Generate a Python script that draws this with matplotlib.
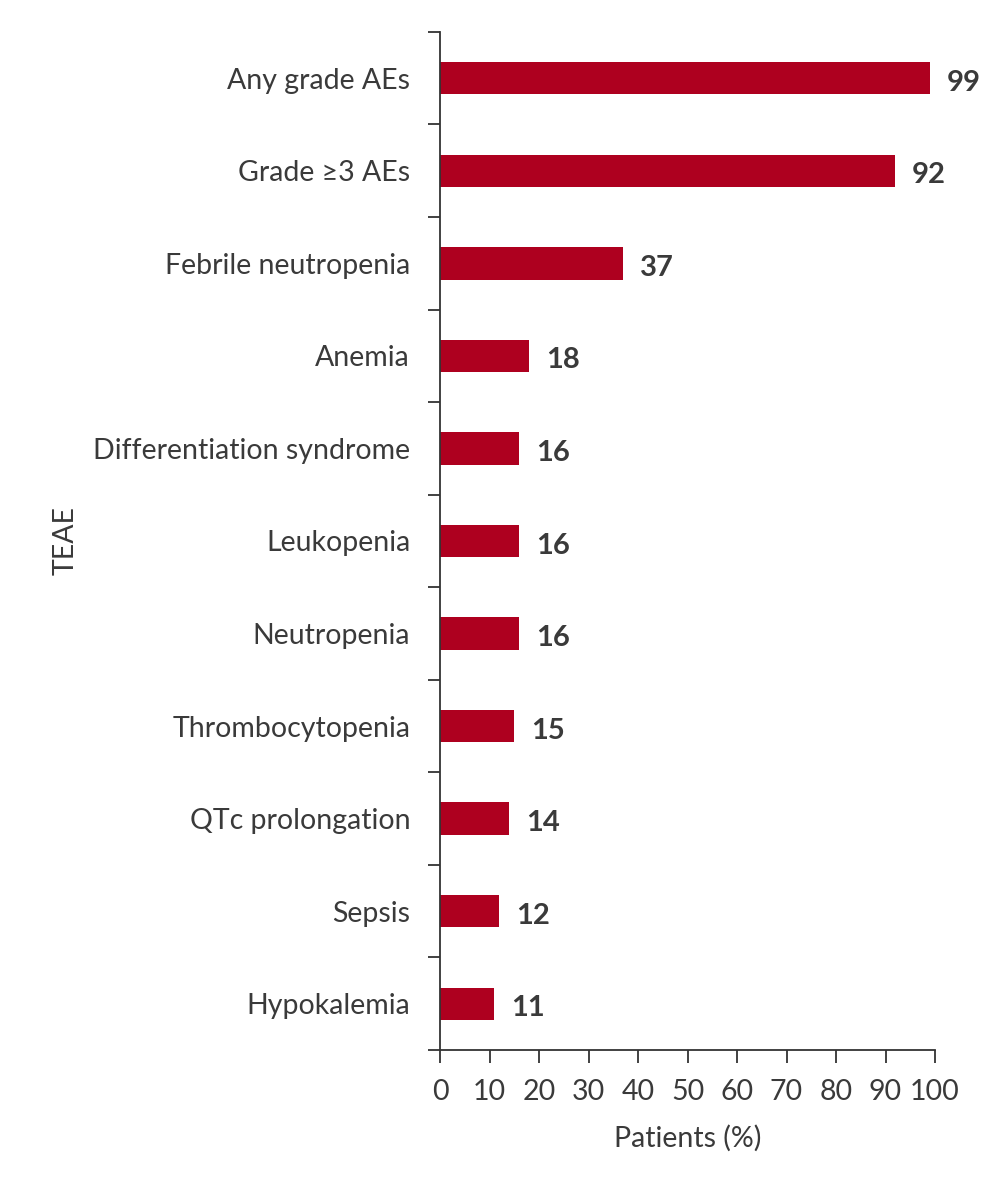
import numpy as np
import matplotlib.pyplot as plt
from matplotlib.ticker import FixedLocator, NullFormatter

plt.rcParams['font.family'] = ['Lato', 'DejaVu Sans']

categories = ["Any grade AEs", "Grade \u22653 AEs", "Febrile neutropenia", "Anemia",
              "Differentiation syndrome", "Leukopenia", "Neutropenia",
              "Thrombocytopenia", "QTc prolongation", "Sepsis", "Hypokalemia"]
values = [99, 92, 37, 18, 16, 16, 16, 15, 14, 12, 11]
x_ticks = list(range(0, 101, 10))

BAR = "#AE001F"
TXT = "#3a3a3a"
AX = "#333333"
FS = 20.5

fig = plt.figure(figsize=(10, 11.92), dpi=100)
ax = fig.add_axes([0.44, 0.1191, 0.495, 0.8541])

pos = np.arange(len(categories))
ax.barh(pos, values, height=0.35, color=BAR)

# value labels to the right of each bar
for p, v in zip(pos, values):
    ax.annotate(str(v), xy=(v, p), xytext=(12, -1.5), textcoords="offset points",
                ha="left", va="center_baseline", fontsize=21, fontweight="bold",
                color=TXT)

ax.set_ylim(len(categories) - 0.5, -0.5)
ax.set_xlim(0, 100)
ax.set_yticks(pos)
ax.set_yticklabels(categories)
# tick marks sit between the categories
ax.yaxis.set_minor_locator(FixedLocator(np.arange(-0.5, len(categories), 1.0)))
ax.yaxis.set_minor_formatter(NullFormatter())
ax.tick_params(axis="y", which="major", length=0, pad=21.5, labelsize=FS, labelcolor=TXT)
ax.tick_params(axis="y", which="minor", length=9, width=1.3, color=AX)
ax.set_xticks(x_ticks)
ax.tick_params(axis="x", length=9, width=1.3, color=AX, pad=12, labelsize=FS, labelcolor=TXT)

for s in ["top", "right"]:
    ax.spines[s].set_visible(False)
for s in ["left", "bottom"]:
    ax.spines[s].set_color(AX)
    ax.spines[s].set_linewidth(1.3)

ax.set_xlabel("Patients (%)", fontsize=FS, color=TXT, labelpad=14)
ax.set_ylabel("TEAE", fontsize=FS, color=TXT)
ax.yaxis.set_label_coords(-0.731, 0.5)

fig.savefig("out.png", dpi=100)
